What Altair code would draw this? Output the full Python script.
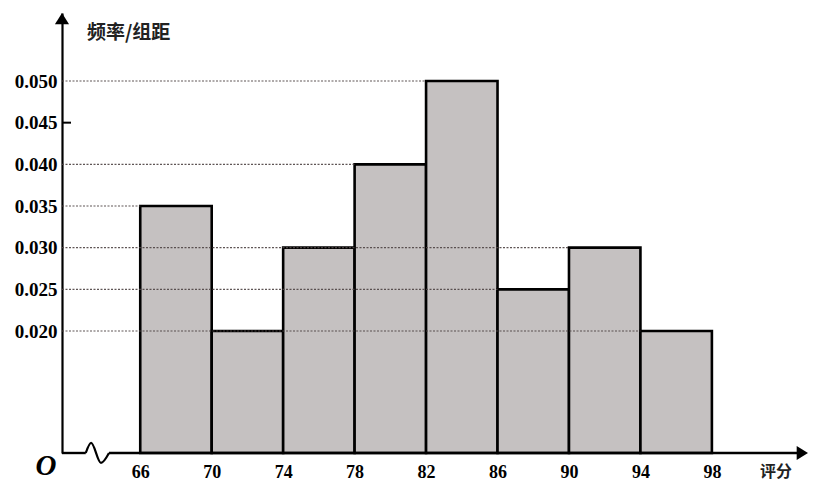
import altair as alt
import pandas as pd

# ---- data ----
bin_start = [66, 70, 74, 78, 82, 86, 90, 94]
bin_end = [70, 74, 78, 82, 86, 90, 94, 98]
density = [0.035, 0.020, 0.030, 0.040, 0.050, 0.025, 0.030, 0.020]

x_ticks = [66, 70, 74, 78, 82, 86, 90, 94, 98]
y_ticks = [0.020, 0.025, 0.030, 0.035, 0.040, 0.045, 0.050]

# dotted guide lines: level and the bin edge where each one stops
grid_levels = [0.050, 0.040, 0.035, 0.030, 0.025, 0.020]
grid_ends = [82, 78, 66, 90, 86, 94]

# broken-axis squiggle on the x axis
break_x = [62.95, 63.25, 63.8, 64.25]
break_y = [0.00536, 0.00657, 0.00417, 0.00536]

X_MIN, X_MAX = 61.62, 103.38
Y_MIN, Y_MAX = 0.00536, 0.05816

W, H = 746, 440

xs = alt.Scale(domain=[X_MIN, X_MAX], nice=False, zero=False)
ys = alt.Scale(domain=[Y_MIN, Y_MAX], nice=False, zero=False)

x_axis = alt.Axis(values=x_ticks, title=None, domain=False, ticks=False, grid=False,
                  labelFont="Liberation Serif", labelFontWeight="bold", labelFontSize=18,
                  labelColor="black", labelPadding=10, format="d")
y_axis = alt.Axis(values=y_ticks, title=None, domain=True, domainColor="black",
                  domainWidth=2.2, ticks=False, grid=False, format=".3f",
                  labelFont="Liberation Serif", labelFontWeight="bold", labelFontSize=19,
                  labelColor="black", labelPadding=5)

bars_df = pd.DataFrame({"start": bin_start, "end": bin_end, "density": density})
grid_df = pd.DataFrame({"level": grid_levels, "end": grid_ends, "x0": [X_MIN] * len(grid_levels)})
brk_df = pd.DataFrame({"x": break_x, "y": break_y})

bars = alt.Chart(bars_df).mark_rect(fill="#c5c1c1", stroke="black", strokeWidth=2.6).encode(
    x=alt.X("start:Q", scale=xs, axis=x_axis),
    x2="end:Q",
    y=alt.Y("density:Q", scale=ys, axis=y_axis),
    y2=alt.datum(Y_MIN),
)

grid = alt.Chart(grid_df).mark_rule(color="#4e4444", strokeWidth=1.1, strokeDash=[2, 1.5], opacity=0.9).encode(
    x=alt.X("x0:Q", scale=xs, axis=x_axis),
    x2="end:Q",
    y=alt.Y("level:Q", scale=ys, axis=y_axis),
)

tick_df = pd.DataFrame({"v": [0.045]})
tick045 = alt.Chart(tick_df).mark_rule(color="black", strokeWidth=2).encode(
    y=alt.Y("v:Q", scale=ys, axis=y_axis),
    x=alt.value(0),
    x2=alt.value(9),
)

axis_df = pd.DataFrame({"a": [X_MIN, break_x[-1]], "b": [break_x[0], X_MAX - 0.3],
                        "y": [Y_MIN, Y_MIN]})
xline = alt.Chart(axis_df).mark_rule(color="black", strokeWidth=2.4).encode(
    x=alt.X("a:Q", scale=xs, axis=x_axis),
    x2="b:Q",
    y=alt.Y("y:Q", scale=ys, axis=y_axis),
)

squiggle = alt.Chart(brk_df).mark_line(color="black", strokeWidth=2.2, interpolate="monotone").encode(
    x=alt.X("x:Q", scale=xs, axis=x_axis),
    y=alt.Y("y:Q", scale=ys, axis=y_axis),
)

up_df = pd.DataFrame({"x": [X_MIN], "y": [Y_MAX]})
up_arrow = alt.Chart(up_df).mark_point(shape="M0,0L-1,1.6L1,1.6Z", filled=True, size=200,
                                       color="black", opacity=1).encode(
    x=alt.X("x:Q", scale=xs, axis=x_axis),
    y=alt.Y("y:Q", scale=ys, axis=y_axis),
)
right_df = pd.DataFrame({"x": [X_MAX], "y": [Y_MIN]})
right_arrow = alt.Chart(right_df).mark_point(shape="M0,0L-1.6,-1L-1.6,1Z", filled=True, size=200,
                                             color="black", opacity=1).encode(
    x=alt.X("x:Q", scale=xs, axis=x_axis),
    y=alt.Y("y:Q", scale=ys, axis=y_axis),
)

ylabel = alt.Chart(pd.DataFrame({"t": ["频率/组距"]})).mark_text(
    font="Noto Sans CJK SC", fontWeight="bold", fontSize=19, align="left", baseline="middle",
    color="#222"
).encode(text="t:N", x=alt.value(25), y=alt.value(20))

xlabel = alt.Chart(pd.DataFrame({"t": ["评分"]})).mark_text(
    font="Noto Sans CJK SC", fontWeight="bold", fontSize=16, align="left", baseline="bottom",
    color="#222"
).encode(text="t:N", x=alt.value(698), y=alt.value(467))

origin = alt.Chart(pd.DataFrame({"t": ["O"]})).mark_text(
    font="Liberation Serif", fontStyle="italic", fontWeight="bold", fontSize=29,
    align="center", baseline="middle", color="black"
).encode(text="t:N", x=alt.value(-16), y=alt.value(453))

chart = alt.layer(bars, grid, tick045, xline, squiggle, up_arrow, right_arrow,
                  ylabel, xlabel, origin).properties(
    width=W, height=H,
    background="white",
    autosize=alt.AutoSizeParams(type="none"),
    padding={"left": 54, "top": 5, "right": 0, "bottom": 28},
).configure_view(stroke=None, strokeWidth=0)

chart.save("out.html", embed_options={"renderer": "svg", "actions": False})
